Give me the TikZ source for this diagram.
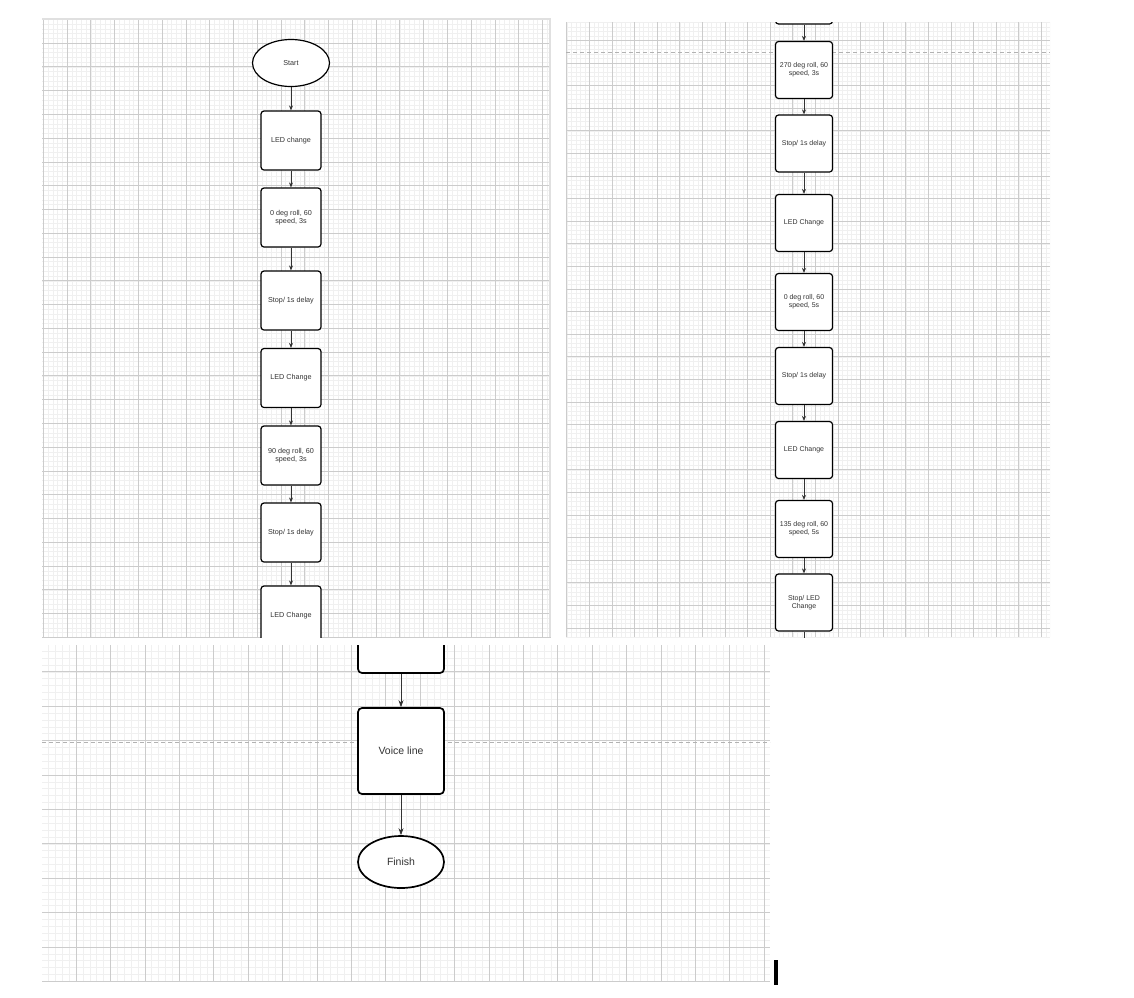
\documentclass[tikz,border=0pt]{standalone}
\usepackage{fontspec}
\setmainfont{Liberation Sans}
\usetikzlibrary{shapes.geometric,arrows.meta}

\tikzset{
  gridminor/.style={draw=black!6, line width=0.4pt},
  gridmajor/.style={draw=black!20, line width=0.6pt},
  pageedge/.style={draw=black!12, line width=1.5pt},
  pagebreak/.style={draw=black!30, dashed, dash pattern=on 4pt off 3pt, line width=0.6pt},
  flowbox/.style={draw=black, fill=white, rounded corners=3pt, line width=1.2pt,
    minimum width=60pt, minimum height=59pt, align=center, inner sep=1pt,
    text=black!80, font=\fontsize{7.2}{8.2}\selectfont},
  flowboxr/.style={flowbox, minimum width=57pt, minimum height=57pt,
    font=\fontsize{7}{8}\selectfont},
  flowboxbig/.style={flowbox, line width=1.7pt, rounded corners=4pt,
    minimum width=86pt, minimum height=86pt, font=\fontsize{10.5}{12}\selectfont},
  terminal/.style={draw=black, fill=white, ellipse, line width=1.2pt, inner sep=0pt,
    text=black!80, font=\fontsize{7.2}{8.2}\selectfont},
  flowarrow/.style={-{Stealth[length=5pt,width=4pt]}, line width=0.7pt, draw=black!80},
}

% squared paper: x0 y0 x1 y1, first major line x and y, major spacing
\newcommand{\papergrid}[7]{%
  \begin{scope}
    \clip (#1,#2) rectangle (#3,#4);
    \fill[white] (#1,#2) rectangle (#3,#4);
    \foreach \i in {-6,...,160} {
      \draw[gridminor] ({#5+\i*#7/5},#2) -- ({#5+\i*#7/5},#4);
      \draw[gridminor] (#1,{#6+\i*#7/5}) -- (#3,{#6+\i*#7/5});
    }
    \foreach \i in {-2,...,32} {
      \draw[gridmajor] ({#5+\i*#7},#2) -- ({#5+\i*#7},#4);
      \draw[gridmajor] (#1,{#6+\i*#7}) -- (#3,{#6+\i*#7});
    }
  \end{scope}}

\begin{document}
\begin{tikzpicture}[x=1pt,y=-1pt]
    \useasboundingbox[fill=white] (0,0) rectangle (1134,997);

    % Left page
    \papergrid{42}{18}{551}{637}{67}{43}{23.77}
    \draw[pageedge] (42,19) -- (550,19) -- (550,637);
    \begin{scope}
        \clip (42,18) rectangle (551,637);
        \node[terminal, minimum width=77pt, minimum height=47pt] (start) at (291,63) {Start};
        \node[flowbox] (led1) at (291,140.5) {LED change};
        \node[flowbox] (roll0) at (291,217.5) {0 deg roll, 60\\speed, 3s};
        \node[flowbox] (stop1) at (291,300.5) {Stop/ 1s delay};
        \node[flowbox] (led2) at (291,378) {LED Change};
        \node[flowbox] (roll90) at (291,455.5) {90 deg roll, 60\\speed, 3s};
        \node[flowbox] (stop2) at (291,532.5) {Stop/ 1s delay};
        \node[flowbox] (led3) at (291,615.5) {LED Change};

        \draw[flowarrow] (start) -- (led1);
        \draw[flowarrow] (led1) -- (roll0);
        \draw[flowarrow] (roll0) -- (stop1);
        \draw[flowarrow] (stop1) -- (led2);
        \draw[flowarrow] (led2) -- (roll90);
        \draw[flowarrow] (roll90) -- (stop2);
        \draw[flowarrow] (stop2) -- (led3);
    \end{scope}

    % Right page
    \papergrid{566}{22}{1050}{637}{589.3}{40.3}{22.6}
    \draw[pagebreak] (566,52) -- (1050,52);
    \begin{scope}
        \clip (566,22) rectangle (1050,637);
        \node[flowboxr] (prev) at (804,-4.5) {};
        \node[flowboxr] (roll270) at (804,70) {270 deg roll, 60\\speed, 3s};
        \node[flowboxr] (stop3) at (804,143.5) {Stop/ 1s delay};
        \node[flowboxr] (led4) at (804,223) {LED Change};
        \node[flowboxr] (roll0b) at (804,302) {0 deg roll, 60\\speed, 5s};
        \node[flowboxr] (stop4) at (804,376) {Stop/ 1s delay};
        \node[flowboxr] (led5) at (804,450) {LED Change};
        \node[flowboxr] (roll135) at (804,529) {135 deg roll, 60\\speed, 5s};
        \node[flowboxr] (stopled) at (804,602.5) {Stop/ LED\\Change};
        \coordinate (onward) at (804,660);

        \draw[flowarrow] (prev) -- (roll270);
        \draw[flowarrow] (roll270) -- (stop3);
        \draw[flowarrow] (stop3) -- (led4);
        \draw[flowarrow] (led4) -- (roll0b);
        \draw[flowarrow] (roll0b) -- (stop4);
        \draw[flowarrow] (stop4) -- (led5);
        \draw[flowarrow] (led5) -- (roll135);
        \draw[flowarrow] (roll135) -- (stopled);
        \draw[flowarrow] (stopled) -- (onward);
    \end{scope}

    % Bottom page
    \papergrid{42}{645}{770}{982}{76}{671.7}{34.4}
    \draw[pagebreak] (42,742) -- (770,742);
    \begin{scope}
        \clip (42,645) rectangle (770,982);
        \node[flowboxbig] (last) at (401,630) {};
        \node[flowboxbig] (voice) at (401,751) {Voice line};
        \node[terminal, line width=1.7pt, minimum width=86pt, minimum height=52pt,
              font=\fontsize{10.5}{12}\selectfont] (finish) at (401,862) {Finish};

        \draw[flowarrow, -{Stealth[length=7pt,width=5pt]}] (last) -- (voice);
        \draw[flowarrow, -{Stealth[length=7pt,width=5pt]}] (voice) -- (finish);
    \end{scope}

    % Text cursor
    \fill[black] (774,960) rectangle (777.5,985);
\end{tikzpicture}
\end{document}
